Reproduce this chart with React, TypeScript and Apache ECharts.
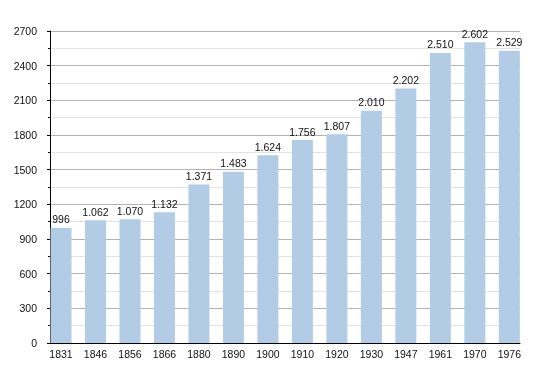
import React, { useEffect, useRef } from "react";
import * as echarts from "echarts";

const categories = ["1831", "1846", "1856", "1866", "1880", "1890", "1900", "1910", "1920", "1930", "1947", "1961", "1970", "1976"];
const population = [996, 1062, 1070, 1132, 1371, 1483, 1624, 1756, 1807, 2010, 2202, 2510, 2602, 2529];
const yMin = 0;
const yMax = 2700;
const yInterval = 300;

function fmt(v: number): string {
  const s = String(v);
  return s.length > 3 ? s.slice(0, s.length - 3) + "." + s.slice(s.length - 3) : s;
}

export default function App() {
  const ref = useRef<HTMLDivElement>(null);
  useEffect(() => {
    if (!ref.current) return;
    const chart = echarts.init(ref.current, null, { renderer: "svg" });
    const font = "Liberation Sans";
    chart.setOption({
      animation: false,
      textStyle: { fontFamily: font },
      grid: [
        { left: 50, right: 30, top: 31, bottom: 30 },
        { left: 43.76, right: 23.44, top: 31, bottom: 30 },
      ],
      xAxis: [
        {
          type: "category",
          gridIndex: 0,
          data: categories,
          axisLine: { show: true, lineStyle: { color: "#000", width: 1 } },
          axisTick: { show: false },
          axisLabel: { show: false },
          splitLine: { show: false },
        },
        {
          type: "category",
          gridIndex: 1,
          data: categories,
          axisLine: { show: false },
          axisTick: { show: false },
          axisLabel: { show: true, fontSize: 10.5, color: "#111", margin: 5, fontFamily: font },
          splitLine: { show: false },
        },
      ],
      yAxis: [
        {
          type: "value",
          gridIndex: 0,
          min: yMin,
          max: yMax,
          interval: yInterval,
          axisLine: { show: true, lineStyle: { color: "#000", width: 1 } },
          axisTick: { show: true, length: 3, lineStyle: { color: "#000" } },
          minorTick: { show: true, splitNumber: 2, length: 2, lineStyle: { color: "#000" } },
          axisLabel: { fontSize: 10.5, color: "#111", margin: 13, fontFamily: font, formatter: (v: number) => String(v) },
          splitLine: { show: true, lineStyle: { color: "#b3b3b3", width: 1 } },
          minorSplitLine: { show: true, lineStyle: { color: "#e3e3e3", width: 1 } },
        },
        {
          type: "value",
          gridIndex: 1,
          min: yMin,
          max: yMax,
          interval: yInterval,
          show: false,
          splitLine: { show: false },
        },
      ],
      series: [
        {
          type: "bar",
          xAxisIndex: 1,
          yAxisIndex: 1,
          data: population,
          barWidth: 21,
          itemStyle: { color: "#b3cce6" },
          label: {
            show: true,
            position: "top",
            distance: 3,
            fontSize: 10.5,
            color: "#111",
            fontFamily: font,
            formatter: (p: any) => fmt(p.value),
          },
        },
      ],
    });
    return () => chart.dispose();
  }, []);
  return <div ref={ref} style={{ position: "fixed", left: 0, top: 0, width: 550, height: 373 }} />;
}
